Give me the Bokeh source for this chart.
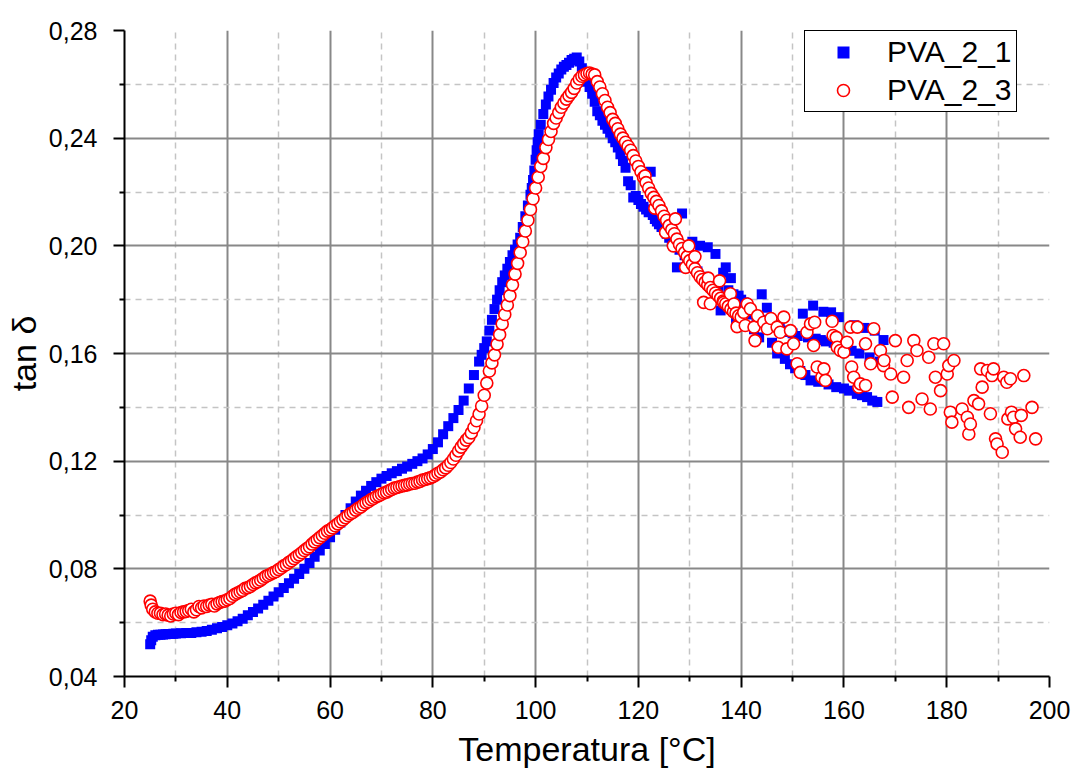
from bokeh.plotting import figure
from bokeh.models import FixedTicker, CustomJSTickFormatter, Legend, LegendItem, Range1d
from bokeh.embed import file_html
from bokeh.resources import INLINE

# ---------------- data ----------------
# PVA_2_1 (blue squares): temperature [°C]
t_pva21 = [25.0, 25.2, 25.5, 26, 26.5, 27, 27.5, 28, 28.5, 29, 29.5, 30, 31, 32, 33, 34, 35, 36, 37, 38,
           39, 40, 41, 42, 43, 44, 45, 46, 47, 48, 49, 50, 51, 52, 53, 54, 55, 56, 57, 58,
           59, 60, 61, 62, 63, 64, 65, 66, 67, 68, 69, 70, 71, 72, 73, 74, 75, 76, 77, 78,
           79, 80, 81, 82, 83, 84, 85, 86, 87, 88, 89, 89.5, 90, 90.5, 91, 91.5, 92, 92.5, 93, 93.5,
           94, 94.5, 95, 95.5, 96, 96.5, 97, 97.5, 98, 98.5, 99, 99.25, 99.5, 99.75, 100, 100.2, 100.4, 100.6, 101, 101.5,
           102, 102.5, 103, 103.5,
           104, 104.5, 105, 105.5, 106, 106.5, 107, 107.5, 108, 108.5, 109, 109.5, 110, 110.5, 111, 111.5, 112, 112.5, 113, 113.5,
           114, 114.5, 115, 115.5, 116, 116.5, 117, 117.5, 118, 118.5, 119, 119.5, 120, 120.5, 121, 121.5, 122, 122.4, 122.8, 123.2,
           123.6, 124, 124.5, 125, 125.5, 126, 126.5, 127, 127.5, 128, 128.5, 129, 129.5, 130, 130.5, 131, 131.5, 132, 132.5, 133,
           133.5, 134, 134.5, 135, 135.5, 136, 136.5, 137, 137.5, 138, 138.5, 139, 139.5, 140, 140.5, 141, 141.5, 142, 142.5, 143,
           143.5, 144, 144.5, 145, 145.5, 146, 146.5, 147, 147.5, 148, 148.5, 149, 149.5, 150, 150.5, 151, 151.5, 152, 152.5, 153,
           153.5, 154, 154.5, 155, 155.5, 156, 156.5, 157, 157.5, 158, 158.5, 159, 159.5, 160, 160.5, 161, 161.5, 162, 162.5, 163,
           163.5, 164, 164.5, 165, 165.5, 166, 166.5, 167, 167.7]
# PVA_2_1: tan delta
tan_pva21 = [0.0520, 0.0535, 0.0548, 0.0553, 0.0555, 0.0555, 0.0556, 0.0557, 0.0558, 0.0558, 0.0559, 0.0560, 0.0561, 0.0562, 0.0562, 0.0564, 0.0566, 0.0569, 0.0574, 0.0579,
             0.0584, 0.0590, 0.0597, 0.0605, 0.0615, 0.0628, 0.0640, 0.0653, 0.0667, 0.0681, 0.0697, 0.0713, 0.0729, 0.0746, 0.0763, 0.0781, 0.0800, 0.0822, 0.0845, 0.0868,
             0.0892, 0.0917, 0.0945, 0.0972, 0.1000, 0.1025, 0.1050, 0.1072, 0.1090, 0.1108, 0.1122, 0.1135, 0.1145, 0.1155, 0.1163, 0.1172, 0.1180, 0.1190, 0.1200, 0.1210,
             0.1225, 0.1245, 0.1270, 0.1300, 0.1330, 0.1360, 0.1390, 0.1425, 0.1470, 0.1520, 0.1570, 0.1595, 0.1620, 0.1645, 0.1685, 0.1725, 0.1765, 0.1800, 0.1835, 0.1865,
             0.1890, 0.1915, 0.1940, 0.1965, 0.1985, 0.2005, 0.2030, 0.2070, 0.2110, 0.2150, 0.2190, 0.2215, 0.2245, 0.2280, 0.2320, 0.2355, 0.2385, 0.2415, 0.2450, 0.2490,
             0.2525, 0.2555, 0.2580, 0.2605,
             0.2625, 0.2640, 0.2655, 0.2665, 0.2672, 0.2680, 0.2690, 0.2695, 0.2700, 0.2685, 0.2660, 0.2635, 0.2610, 0.2590, 0.2565, 0.2535, 0.2500, 0.2485, 0.2465, 0.2450,
             0.2435, 0.2420, 0.2400, 0.2385, 0.2365, 0.2340, 0.2315, 0.2290, 0.2240, 0.2225, 0.2180, 0.2185, 0.2170, 0.2155, 0.2145, 0.2135, 0.2125, 0.2275, 0.2115, 0.2100,
             0.2090, 0.2080, 0.2070, 0.2060, 0.2045, 0.2030, 0.2015, 0.2000, 0.1920, 0.1985, 0.2120, 0.1965, 0.1950, 0.1935, 0.2015, 0.1915, 0.1905, 0.2000, 0.1885, 0.1875,
             0.1995, 0.1865, 0.1855, 0.1970, 0.1845, 0.1760, 0.1900, 0.1920, 0.1835, 0.1880, 0.1820, 0.1720, 0.1815, 0.1800, 0.1790, 0.1775, 0.1760, 0.1745, 0.1690, 0.1735,
             0.1660, 0.1820, 0.1725, 0.1770, 0.1715, 0.1640, 0.1705, 0.1600, 0.1695, 0.1685, 0.1580, 0.1680, 0.1560, 0.1675, 0.1545, 0.1665, 0.1535, 0.1748, 0.1520, 0.1660,
             0.1500, 0.1778, 0.1655, 0.1495, 0.1650, 0.1755, 0.1645, 0.1485, 0.1753, 0.1640, 0.1475, 0.1735, 0.1635, 0.1470, 0.1630, 0.1462, 0.1610, 0.1705, 0.1450, 0.1600,
             0.1445, 0.1695, 0.1438, 0.1585, 0.1425, 0.1685, 0.1420, 0.1570, 0.1650]

# PVA_2_3 (red open circles): temperature [°C]
t_pva23 = [25.0, 25.2, 25.5, 26, 26.5, 27, 27.5, 28, 28.5, 29, 29.5, 30, 30.5, 31, 31.5, 32, 32.5, 33, 33.5, 34,
           34.5, 35, 35.5, 36, 36.5, 37, 37.5, 38, 38.5, 39, 39.5, 40, 40.5, 41, 41.5, 42, 42.5, 43, 43.5, 44,
           44.5, 45, 45.5, 46, 46.5, 47, 47.5, 48, 48.5, 49, 49.5, 50, 50.5, 51, 51.5, 52, 52.5, 53, 53.5, 54,
           54.5, 55, 55.5, 56, 56.5, 57, 57.5, 58, 58.5, 59, 59.5, 60, 60.5, 61, 61.5, 62, 62.5, 63, 63.5, 64,
           64.5, 65, 65.5, 66, 66.5, 67, 67.5, 68, 68.5, 69, 69.5, 70, 70.5, 71, 71.5, 72, 72.5, 73, 73.5, 74,
           74.5, 75, 75.5, 76, 76.5, 77, 77.5, 78, 78.5, 79, 79.5, 80, 80.5, 81, 81.5, 82, 82.5, 83, 83.5, 84,
           84.5, 85, 85.5, 86, 86.5, 87, 87.5, 88, 88.5, 89, 89.5, 90, 90.5, 91, 91.5, 92, 92.5, 93, 93.5, 94,
           94.5, 95, 95.5, 96, 96.5, 97, 97.5, 98, 98.5, 99, 99.5, 100, 100.5, 101, 101.5, 102, 102.5, 103, 103.5, 104,
           104.5, 105, 105.5, 106, 106.5, 107, 107.5, 108, 108.5, 109, 109.5, 110, 110.5, 111, 111.5, 112, 112.5, 113, 113.5, 114,
           114.5, 115, 115.5, 116, 116.5, 117, 117.5, 118, 118.5, 119, 119.5, 120, 120.5, 121, 121.3, 121.5, 122, 122.5, 123, 123.2,
           123.5, 124, 124.5, 125, 125.3, 125.5, 126, 126.5, 126.8, 127, 127.2, 127.5, 128, 128.5, 129, 129.2, 129.5, 129.8, 130, 130.5,
           131, 131.0, 131.5, 132, 132.5, 132.7, 133, 133.5, 133.6, 134, 134.0, 134.5, 135, 135.5, 135.8, 136, 136.5, 136.6, 137, 137.5,
           137.9, 138, 138.5, 138.6, 139, 139.2, 139.5, 140, 140.5, 140.8, 141.2, 141.8, 142.5, 142.7, 143.2, 144.4, 145.1, 145.8, 147.0, 147.2,
           147.6, 148.3, 148.9, 149.6, 150.2, 150.9, 151.5, 152.8, 153.5, 154.3, 154.1, 154.8, 155.7, 156.1, 156.4, 157.7, 157.9, 158.5, 158.7, 159.3,
           160.0, 160.6, 161.3, 161.5, 161.9, 162.6, 162.9, 163.2, 164.2, 164.2, 165.2, 165.8, 167.1, 167.7, 167.8, 169.1, 169.4, 170.0, 171.6, 172.3,
           172.6, 173.6, 174.2, 175.2, 176.5, 176.8, 177.5, 177.8, 178.8, 179.4, 180.1, 180.4, 180.7, 181.0, 181.4, 183.0, 184.0, 184.3, 184.6, 185.3,
           186.2, 186.6, 186.9, 187.9, 188.5, 188.8, 189.1, 189.5, 189.8, 190.8, 191.1, 191.7, 191.9, 192.4, 192.6, 193.0, 193.4, 194.3, 194.5, 195.0,
           196.6, 197.3]
# PVA_2_3: tan delta
tan_pva23 = [0.0680, 0.0665, 0.0650, 0.0640, 0.0635, 0.0635, 0.0630, 0.0632, 0.0628, 0.0625, 0.0632, 0.0635, 0.0630, 0.0638, 0.0640, 0.0642, 0.0645, 0.0650, 0.0640, 0.0648,
             0.0660, 0.0655, 0.0662, 0.0660, 0.0665, 0.0668, 0.0662, 0.0670, 0.0675, 0.0678, 0.0680, 0.0685, 0.0690, 0.0698, 0.0705, 0.0710, 0.0715, 0.0720, 0.0728, 0.0730,
             0.0735, 0.0742, 0.0748, 0.0752, 0.0758, 0.0765, 0.0772, 0.0776, 0.0781, 0.0786, 0.0790, 0.0797, 0.0803, 0.0811, 0.0816, 0.0824, 0.0830, 0.0838, 0.0846, 0.0852,
             0.0860, 0.0868, 0.0875, 0.0882, 0.0892, 0.0900, 0.0908, 0.0916, 0.0924, 0.0932, 0.0940, 0.0945, 0.0952, 0.0960, 0.0967, 0.0975, 0.0982, 0.0990, 0.0998, 0.1005,
             0.1010, 0.1018, 0.1025, 0.1030, 0.1038, 0.1045, 0.1050, 0.1057, 0.1062, 0.1068, 0.1072, 0.1077, 0.1082, 0.1085, 0.1090, 0.1095, 0.1100, 0.1102, 0.1105, 0.1108,
             0.1110, 0.1112, 0.1115, 0.1117, 0.1118, 0.1122, 0.1125, 0.1130, 0.1132, 0.1135, 0.1138, 0.1142, 0.1148, 0.1155, 0.1160, 0.1168, 0.1175, 0.1185, 0.1195, 0.1208,
             0.1222, 0.1238, 0.1252, 0.1265, 0.1278, 0.1288, 0.1305, 0.1325, 0.1350, 0.1375, 0.1405, 0.1445, 0.1490, 0.1535, 0.1565, 0.1595, 0.1635, 0.1670, 0.1710, 0.1745,
             0.1780, 0.1815, 0.1855, 0.1895, 0.1935, 0.1975, 0.2015, 0.2055, 0.2095, 0.2135, 0.2175, 0.2215, 0.2255, 0.2295, 0.2325, 0.2365, 0.2395, 0.2425, 0.2455, 0.2475,
             0.2495, 0.2515, 0.2530, 0.2545, 0.2558, 0.2570, 0.2585, 0.2605, 0.2620, 0.2630, 0.2635, 0.2640, 0.2642, 0.2638, 0.2635, 0.2610, 0.2590, 0.2565, 0.2540, 0.2515,
             0.2495, 0.2470, 0.2455, 0.2435, 0.2415, 0.2400, 0.2385, 0.2370, 0.2355, 0.2335, 0.2315, 0.2295, 0.2275, 0.2255, 0.2260, 0.2235, 0.2215, 0.2195, 0.2180, 0.2140,
             0.2165, 0.2150, 0.2130, 0.2110, 0.2050, 0.2095, 0.2075, 0.2060, 0.2000, 0.2045, 0.2100, 0.2025, 0.2005, 0.1990, 0.1975, 0.1920, 0.1960, 0.2000, 0.1945, 0.1930,
             0.1915, 0.1960, 0.1900, 0.1885, 0.1875, 0.1790, 0.1865, 0.1855, 0.1880, 0.1845, 0.1785, 0.1835, 0.1825, 0.1815, 0.1870, 0.1805, 0.1795, 0.1790, 0.1785, 0.1775,
             0.1822, 0.1765, 0.1755, 0.1784, 0.1750, 0.1700, 0.1740, 0.1735, 0.1753, 0.1704, 0.1784, 0.1766, 0.1698, 0.1648, 0.1740, 0.1716, 0.1692, 0.1730, 0.1698, 0.1623,
             0.1679, 0.1735, 0.1617, 0.1685, 0.1636, 0.1562, 0.1530, 0.1679, 0.1710, 0.1716, 0.1630, 0.1550, 0.1512, 0.1543, 0.1500, 0.1720, 0.1667, 0.1660, 0.1623, 0.1611,
             0.1605, 0.1642, 0.1698, 0.1550, 0.1512, 0.1698, 0.1475, 0.1487, 0.1636, 0.1481, 0.1562, 0.1692, 0.1611, 0.1555, 0.1574, 0.1524, 0.1438, 0.1648, 0.1512, 0.1574,
             0.1400, 0.1648, 0.1611, 0.1431, 0.1586, 0.1394, 0.1636, 0.1512, 0.1462, 0.1636, 0.1524, 0.1555, 0.1382, 0.1345, 0.1574, 0.1394, 0.1363, 0.1301, 0.1338, 0.1425,
             0.1413, 0.1543, 0.1475, 0.1537, 0.1376, 0.1518, 0.1543, 0.1283, 0.1264, 0.1233, 0.1512, 0.1493, 0.1357, 0.1506, 0.1382, 0.1363, 0.1320, 0.1289, 0.1370, 0.1518,
             0.1400, 0.1283]

x_major = [20, 40, 60, 80, 100, 120, 140, 160, 180, 200]
x_minor = [30, 50, 70, 90, 110, 130, 150, 170, 190]
y_major = [0.04, 0.08, 0.12, 0.16, 0.20, 0.24, 0.28]
y_minor = [0.06, 0.10, 0.14, 0.18, 0.22, 0.26]

FONT = "Liberation Sans"

p = figure(width=1072, height=774,
           x_range=Range1d(20, 200), y_range=Range1d(0.04, 0.28),
           output_backend="svg", toolbar_location=None,
           min_border_left=124, min_border_right=23, min_border_top=30, min_border_bottom=98)
p.outline_line_color = None
p.background_fill_color = "white"
p.border_fill_color = "white"

# axes
p.xaxis.ticker = FixedTicker(ticks=x_major, minor_ticks=x_minor)
p.yaxis.ticker = FixedTicker(ticks=y_major, minor_ticks=y_minor)
p.yaxis.formatter = CustomJSTickFormatter(code="return tick.toFixed(2).replace('.', ',');")
p.xaxis.axis_label = "Temperatura [°C]"
p.yaxis.axis_label = "tan δ"
for ax in (p.xaxis, p.yaxis):
    ax.axis_line_color = "black"
    ax.axis_line_width = 2
    ax.major_tick_line_color = "black"
    ax.major_tick_line_width = 2
    ax.minor_tick_line_color = "black"
    ax.minor_tick_line_width = 2
    ax.major_tick_in = 0
    ax.major_tick_out = 11
    ax.minor_tick_in = 0
    ax.minor_tick_out = 5
    ax.major_label_text_font = FONT
    ax.major_label_text_font_size = "25px"
    ax.major_label_text_color = "black"
    ax.axis_label_text_font = FONT
    ax.axis_label_text_font_size = "34px"
    ax.axis_label_text_font_style = "normal"
    ax.axis_label_text_color = "black"
p.xaxis.major_label_standoff = 13
p.yaxis.major_label_standoff = 16
p.xaxis.axis_label_standoff = 8
p.yaxis.axis_label_standoff = 3

# grids (no lines on the plot edges)
p.xgrid.ticker = FixedTicker(ticks=x_major[1:-1], minor_ticks=x_minor)
p.ygrid.ticker = FixedTicker(ticks=y_major[1:-1], minor_ticks=y_minor)
for g in (p.xgrid, p.ygrid):
    g.grid_line_color = "#888888"
    g.grid_line_width = 2
    g.minor_grid_line_color = "#c4c4c4"
    g.minor_grid_line_width = 1.5
    g.minor_grid_line_dash = "6 5"

r1 = p.scatter(t_pva21, tan_pva21, marker="square", size=10,
               fill_color="#0000ff", line_color=None)
r2 = p.scatter(t_pva23, tan_pva23, marker="circle", size=12,
               fill_color="white", line_color="#ff0000", line_width=1.6)

legend = Legend(items=[LegendItem(label="PVA_2_1", renderers=[r1]),
                       LegendItem(label="PVA_2_3", renderers=[r2])],
                location=(680, 564))
legend.label_text_font = FONT
legend.label_text_font_size = "30px"
legend.label_text_color = "black"
legend.border_line_color = "black"
legend.border_line_width = 1
legend.border_line_alpha = 1
legend.background_fill_color = "white"
legend.background_fill_alpha = 1
legend.padding = 4
legend.margin = 0
legend.spacing = 4
legend.glyph_width = 68
legend.glyph_height = 30
legend.label_height = 30
legend.label_standoff = 10
p.add_layout(legend)

open("out.html", "w").write(file_html(p, INLINE))
